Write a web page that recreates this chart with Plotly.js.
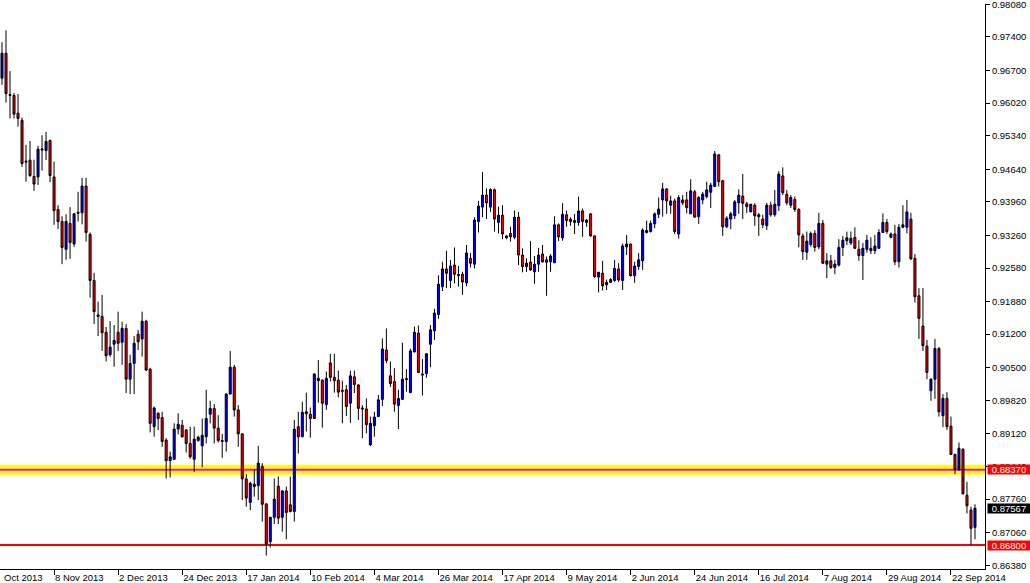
<!DOCTYPE html>
<html><head><meta charset="utf-8">
<script src="https://cdn.plot.ly/plotly-3.0.1.min.js"></script>
<style>html,body{margin:0;padding:0;background:#fff;}#chart{width:1030px;height:583px;}</style>
</head><body><div id="chart"></div>
<script>
// Daily OHLC (bars from 22 Oct 2013 to 30 Sep 2014)
const openP = [
0.9654,0.9706,0.9620,0.9618,0.9581,0.9566,0.9481,0.9483,0.9449,0.9448,
0.9504,0.9503,0.9524,0.9448,0.9380,0.9355,0.9297,0.9351,0.9308,0.9372,
0.9373,0.9429,0.9328,0.9232,0.9160,0.9157,0.9124,0.9077,0.9099,0.9124,
0.9103,0.9132,0.9026,0.9059,0.9120,0.9110,0.9147,0.9047,0.8927,0.8955,
0.8946,0.8899,0.8856,0.8859,0.8922,0.8930,0.8920,0.8892,0.8859,0.8898,
0.8887,0.8906,0.8953,0.8965,0.8924,0.8898,0.8896,0.8995,0.9051,0.8962,
0.8912,0.8818,0.8769,0.8807,0.8804,0.8844,0.8766,0.8687,0.8738,0.8803,
0.8738,0.8793,0.8764,0.8750,0.8927,0.8906,0.8954,0.8953,0.8944,0.9028,
0.9024,0.8973,0.9060,0.9030,0.9024,0.9003,0.9004,0.8976,0.9031,0.9014,
0.8966,0.8964,0.8889,0.8929,0.8948,0.8984,0.9087,0.9033,0.9021,0.8971,
0.8984,0.9025,0.8998,0.9083,0.9122,0.9037,0.9038,0.9099,0.9127,0.9161,
0.9219,0.9256,0.9232,0.9264,0.9242,0.9245,0.9227,0.9278,0.9266,0.9355,
0.9385,0.9410,0.9385,0.9421,0.9353,0.9368,0.9325,0.9330,0.9322,0.9364,
0.9285,0.9261,0.9270,0.9250,0.9266,0.9287,0.9275,0.9271,0.9269,0.9348,
0.9321,0.9369,0.9355,0.9357,0.9353,0.9377,0.9353,0.9371,0.9325,0.9239,
0.9247,0.9223,0.9228,0.9232,0.9256,0.9232,0.9302,0.9308,0.9242,0.9261,
0.9273,0.9332,0.9334,0.9350,0.9370,0.9400,0.9423,0.9389,0.9398,0.9329,
0.9400,0.9400,0.9371,0.9417,0.9365,0.9400,0.9407,0.9416,0.9428,0.9494,
0.9440,0.9344,0.9360,0.9367,0.9394,0.9408,0.9392,0.9375,0.9389,0.9369,
0.9360,0.9346,0.9389,0.9369,0.9388,0.9450,0.9412,0.9389,0.9401,0.9380,
0.9325,0.9291,0.9307,0.9330,0.9302,0.9351,0.9266,0.9273,0.9259,0.9264,
0.9301,0.9315,0.9310,0.9322,0.9297,0.9284,0.9297,0.9299,0.9294,0.9299,
0.9332,0.9353,0.9322,0.9329,0.9271,0.9343,0.9343,0.9360,0.9278,0.9200,
0.9137,0.9095,0.9002,0.9026,0.9090,0.8950,0.8986,0.8928,0.8869,0.8837,
0.8880,0.8784,0.8753,0.8717
];
const highP = [
0.9729,0.9754,0.9669,0.9623,0.9621,0.9572,0.9515,0.9523,0.9484,0.9513,
0.9535,0.9542,0.9526,0.9480,0.9389,0.9366,0.9370,0.9385,0.9373,0.9417,
0.9446,0.9446,0.9332,0.9248,0.9188,0.9202,0.9135,0.9147,0.9139,0.9167,
0.9146,0.9141,0.9077,0.9116,0.9129,0.9167,0.9150,0.9050,0.8969,0.8957,
0.8958,0.8903,0.8875,0.8934,0.8955,0.8941,0.8922,0.8927,0.8927,0.8908,
0.8944,0.9004,0.8981,0.8974,0.8951,0.8912,0.8997,0.9085,0.9056,0.8972,
0.8913,0.8828,0.8812,0.8837,0.8887,0.8851,0.8766,0.8739,0.8819,0.8823,
0.8795,0.8802,0.8823,0.8941,0.8958,0.8979,0.8998,0.8967,0.9038,0.9066,
0.9026,0.9042,0.9079,0.9079,0.9044,0.9023,0.9014,0.9044,0.9044,0.9016,
0.8972,0.8986,0.8948,0.8958,0.8993,0.9111,0.9132,0.9063,0.9049,0.9004,
0.9102,0.9047,0.9090,0.9136,0.9138,0.9068,0.9080,0.9139,0.9173,0.9243,
0.9271,0.9294,0.9275,0.9301,0.9262,0.9250,0.9306,0.9289,0.9364,0.9398,
0.9458,0.9424,0.9424,0.9424,0.9386,0.9389,0.9326,0.9344,0.9378,0.9375,
0.9299,0.9278,0.9314,0.9283,0.9300,0.9306,0.9282,0.9287,0.9366,0.9351,
0.9393,0.9378,0.9364,0.9371,0.9407,0.9382,0.9360,0.9372,0.9326,0.9250,
0.9273,0.9234,0.9237,0.9275,0.9268,0.9309,0.9327,0.9309,0.9271,0.9289,
0.9341,0.9357,0.9357,0.9374,0.9405,0.9436,0.9424,0.9409,0.9403,0.9410,
0.9410,0.9417,0.9443,0.9421,0.9408,0.9417,0.9438,0.9436,0.9502,0.9496,
0.9442,0.9366,0.9375,0.9400,0.9422,0.9454,0.9396,0.9392,0.9393,0.9373,
0.9369,0.9394,0.9396,0.9421,0.9460,0.9468,0.9421,0.9410,0.9407,0.9383,
0.9330,0.9334,0.9334,0.9337,0.9373,0.9358,0.9289,0.9285,0.9275,0.9318,
0.9325,0.9334,0.9334,0.9343,0.9316,0.9310,0.9327,0.9322,0.9327,0.9339,
0.9372,0.9360,0.9332,0.9348,0.9350,0.9389,0.9400,0.9373,0.9287,0.9216,
0.9216,0.9108,0.9028,0.9110,0.9093,0.8995,0.8999,0.8948,0.8871,0.8894,
0.8882,0.8812,0.8760,0.8765
];
const lowP = [
0.9640,0.9603,0.9570,0.9570,0.9553,0.9469,0.9438,0.9448,0.9419,0.9431,
0.9461,0.9483,0.9437,0.9348,0.9339,0.9266,0.9275,0.9277,0.9302,0.9355,
0.9349,0.9313,0.9196,0.9141,0.9116,0.9085,0.9063,0.9073,0.9052,0.9085,
0.9056,0.8997,0.8995,0.8995,0.9087,0.9073,0.9043,0.8915,0.8906,0.8920,
0.8885,0.8819,0.8821,0.8858,0.8911,0.8904,0.8873,0.8860,0.8832,0.8896,
0.8842,0.8892,0.8934,0.8892,0.8894,0.8862,0.8875,0.8994,0.8948,0.8885,
0.8774,0.8760,0.8753,0.8781,0.8774,0.8729,0.8658,0.8675,0.8724,0.8724,
0.8708,0.8692,0.8748,0.8729,0.8871,0.8905,0.8917,0.8904,0.8943,0.8977,
0.8925,0.8962,0.9021,0.8998,0.8988,0.8934,0.8949,0.8935,0.8997,0.8941,
0.8903,0.8913,0.8887,0.8906,0.8947,0.8970,0.9059,0.9010,0.8958,0.8922,
0.8983,0.9000,0.8997,0.9082,0.9039,0.8992,0.9029,0.9051,0.9108,0.9152,
0.9210,0.9216,0.9216,0.9226,0.9219,0.9202,0.9220,0.9259,0.9257,0.9332,
0.9364,0.9360,0.9375,0.9334,0.9330,0.9318,0.9318,0.9313,0.9318,0.9264,
0.9249,0.9250,0.9252,0.9225,0.9250,0.9269,0.9200,0.9250,0.9268,0.9314,
0.9315,0.9344,0.9346,0.9329,0.9346,0.9323,0.9344,0.9323,0.9237,0.9207,
0.9211,0.9212,0.9227,0.9229,0.9229,0.9212,0.9285,0.9240,0.9227,0.9254,
0.9254,0.9330,0.9332,0.9341,0.9362,0.9365,0.9371,0.9371,0.9329,0.9319,
0.9389,0.9372,0.9371,0.9364,0.9350,0.9391,0.9403,0.9383,0.9428,0.9428,
0.9325,0.9341,0.9339,0.9360,0.9371,0.9360,0.9373,0.9375,0.9346,0.9325,
0.9341,0.9337,0.9365,0.9365,0.9377,0.9410,0.9389,0.9383,0.9375,0.9301,
0.9275,0.9275,0.9302,0.9292,0.9297,0.9266,0.9237,0.9256,0.9245,0.9261,
0.9283,0.9306,0.9306,0.9298,0.9273,0.9233,0.9290,0.9287,0.9287,0.9298,
0.9331,0.9329,0.9320,0.9264,0.9259,0.9341,0.9330,0.9275,0.9186,0.9110,
0.9085,0.9026,0.8981,0.8985,0.8948,0.8926,0.8920,0.8868,0.8828,0.8835,
0.8785,0.8746,0.8680,0.8692
];
const closeP = [
0.9706,0.9622,0.9618,0.9579,0.9570,0.9476,0.9479,0.9451,0.9433,0.9506,
0.9506,0.9522,0.9451,0.9378,0.9355,0.9301,0.9355,0.9311,0.9371,0.9374,
0.9429,0.9332,0.9232,0.9167,0.9157,0.9123,0.9075,0.9093,0.9107,0.9101,
0.9132,0.9026,0.9059,0.9101,0.9104,0.9147,0.9045,0.8934,0.8966,0.8944,
0.8896,0.8856,0.8864,0.8922,0.8932,0.8906,0.8892,0.8864,0.8901,0.8905,
0.8909,0.8944,0.8965,0.8924,0.8898,0.8896,0.8995,0.9051,0.8962,0.8912,
0.8818,0.8778,0.8809,0.8802,0.8851,0.8765,0.8682,0.8738,0.8776,0.8736,
0.8793,0.8748,0.8750,0.8922,0.8906,0.8957,0.8958,0.8944,0.9037,0.9023,
0.8976,0.9028,0.9030,0.9023,0.8999,0.9001,0.8969,0.9033,0.9015,0.8965,
0.8964,0.8931,0.8934,0.8947,0.8983,0.9089,0.9065,0.9017,0.8974,0.8986,
0.9026,0.9027,0.9085,0.9124,0.9040,0.9035,0.9079,0.9129,0.9164,0.9224,
0.9256,0.9247,0.9262,0.9245,0.9244,0.9229,0.9289,0.9268,0.9358,0.9387,
0.9410,0.9394,0.9422,0.9360,0.9368,0.9329,0.9321,0.9323,0.9364,0.9285,
0.9261,0.9268,0.9254,0.9266,0.9285,0.9271,0.9270,0.9283,0.9348,0.9323,
0.9370,0.9357,0.9360,0.9353,0.9377,0.9355,0.9358,0.9325,0.9240,0.9249,
0.9221,0.9228,0.9234,0.9257,0.9233,0.9304,0.9308,0.9242,0.9262,0.9275,
0.9337,0.9336,0.9351,0.9371,0.9381,0.9423,0.9398,0.9398,0.9334,0.9405,
0.9394,0.9384,0.9419,0.9364,0.9405,0.9412,0.9421,0.9431,0.9496,0.9438,
0.9344,0.9362,0.9371,0.9396,0.9410,0.9393,0.9386,0.9391,0.9367,0.9365,
0.9348,0.9389,0.9369,0.9391,0.9454,0.9415,0.9394,0.9405,0.9380,0.9327,
0.9292,0.9314,0.9330,0.9301,0.9351,0.9268,0.9273,0.9259,0.9266,0.9301,
0.9316,0.9321,0.9320,0.9299,0.9284,0.9299,0.9316,0.9294,0.9304,0.9332,
0.9353,0.9334,0.9329,0.9271,0.9343,0.9348,0.9375,0.9277,0.9198,0.9153,
0.9096,0.9040,0.9026,0.9090,0.8958,0.8986,0.8927,0.8869,0.8838,0.8882,
0.8787,0.8762,0.8715,0.87567
];

// Trading-day categories (weekdays, market closed on these days)
const firstDay = '2013-10-22';
const lastDay = '2014-09-30';
const closedDays = ['2013-12-25', '2014-01-01'];
function tradingDays(a, b, skip) {
  const out = [];
  const d = new Date(a + 'T00:00:00Z');
  const end = new Date(b + 'T00:00:00Z');
  while (d <= end) {
    const wd = d.getUTCDay();
    const s = d.toISOString().slice(0, 10);
    if (wd !== 0 && wd !== 6 && skip.indexOf(s) < 0) out.push(s);
    d.setUTCDate(d.getUTCDate() + 1);
  }
  return out;
}
const dates = tradingDays(firstDay, lastDay, closedDays);

// Time axis labels
const timeTickDates = ['2013-11-08','2013-12-02','2013-12-24','2014-01-17','2014-02-10','2014-03-04','2014-03-26','2014-04-17','2014-05-09','2014-06-02','2014-06-24','2014-07-16','2014-08-07','2014-08-29','2014-09-22'];
const timeTickLabels = ['8 Nov 2013','2 Dec 2013','24 Dec 2013','17 Jan 2014','10 Feb 2014','4 Mar 2014','26 Mar 2014','17 Apr 2014','9 May 2014','2 Jun 2014','24 Jun 2014','16 Jul 2014','7 Aug 2014','29 Aug 2014','22 Sep 2014'];
const firstPartialLabel = 'Oct 2013';

// Price axis labels
const priceTickLabels = ['0.98080','0.97400','0.96700','0.96020','0.95340','0.94640','0.93960','0.93260','0.92580','0.91880','0.91200','0.90500','0.89820','0.89120','0.88440','0.87760','0.87060','0.86380'];

// Horizontal levels
const bandLevel = 0.8837;
const supportLevel = 0.8680;
const lastPrice = closeP[closeP.length - 1];

const FONT = 'Liberation Sans, Arial, sans-serif';

const trace = {
  type: 'candlestick',
  x: dates, open: openP, high: highP, low: lowP, close: closeP,
  increasing: {line: {color: '#000000', width: 1}, fillcolor: '#0000FF'},
  decreasing: {line: {color: '#000000', width: 1}, fillcolor: '#FF0000'},
  whiskerwidth: 0,
  hoverinfo: 'none',
  showlegend: false
};

function priceBox(val, bg) {
  return {
    xref: 'paper', x: 1, xanchor: 'left', xshift: 2,
    yref: 'y', y: val, yanchor: 'middle',
    text: val.toFixed(5), showarrow: false,
    bgcolor: bg, font: {family: FONT, size: 9.5, color: '#FFFFFF'},
    width: 42, height: 9, borderpad: 0, align: 'center'
  };
}

const layout = {
  width: 1030, height: 583,
  margin: {l: 0, r: 45, t: 4, b: 14, pad: 0},
  paper_bgcolor: '#FFFFFF', plot_bgcolor: '#FFFFFF',
  font: {family: FONT, size: 9.5, color: '#000000'},
  showlegend: false,
  boxgap: 0.28,
  hovermode: false,
  xaxis: {
    type: 'category', range: [-0.5, 245.5],
    rangeslider: {visible: false},
    showgrid: false, zeroline: false,
    showline: true, linecolor: '#000000', linewidth: 1,
    ticks: 'outside', ticklen: 5, tickwidth: 1, tickcolor: '#000000',
    tickvals: timeTickDates, ticktext: timeTickLabels,
    ticklabelposition: 'outside right', tickangle: 0,
    ticklabeloverflow: 'allow',
    tickfont: {family: FONT, size: 9.5, color: '#000000'},
    fixedrange: true
  },
  yaxis: {
    side: 'right', range: [0.86301, 0.98087],
    showgrid: false, zeroline: false,
    showline: true, linecolor: '#000000', linewidth: 1,
    ticks: 'outside', ticklen: 4, tickwidth: 1, tickcolor: '#000000',
    tickvals: priceTickLabels.map(Number), ticktext: priceTickLabels,
    ticklabeloverflow: 'allow',
    tickfont: {family: FONT, size: 9.5, color: '#000000'},
    fixedrange: true
  },
  shapes: [
    {type: 'line', xref: 'paper', x0: 0, x1: 1, yref: 'y', y0: bandLevel, y1: bandLevel, line: {color: '#FFFF00', width: 10}, layer: 'below'},
    {type: 'line', xref: 'paper', x0: 0, x1: 1, yref: 'y', y0: bandLevel, y1: bandLevel, line: {color: '#FF00FF', width: 2}, layer: 'below'},
    {type: 'line', xref: 'paper', x0: 0, x1: 1, yref: 'y', y0: supportLevel, y1: supportLevel, line: {color: '#FF0000', width: 2}, layer: 'below'}
  ],
  annotations: [
    {xref: 'paper', x: 0, xanchor: 'left', xshift: 2, yref: 'paper', y: 0, yanchor: 'top', yshift: -1,
     text: firstPartialLabel, showarrow: false, font: {family: FONT, size: 9.5, color: '#000000'}},
    priceBox(bandLevel, '#FF0000'),
    priceBox(lastPrice, '#000000'),
    priceBox(supportLevel, '#FF0000')
  ]
};

Plotly.newPlot('chart', [trace], layout, {displayModeBar: false, staticPlot: true});
</script>
</body></html>
